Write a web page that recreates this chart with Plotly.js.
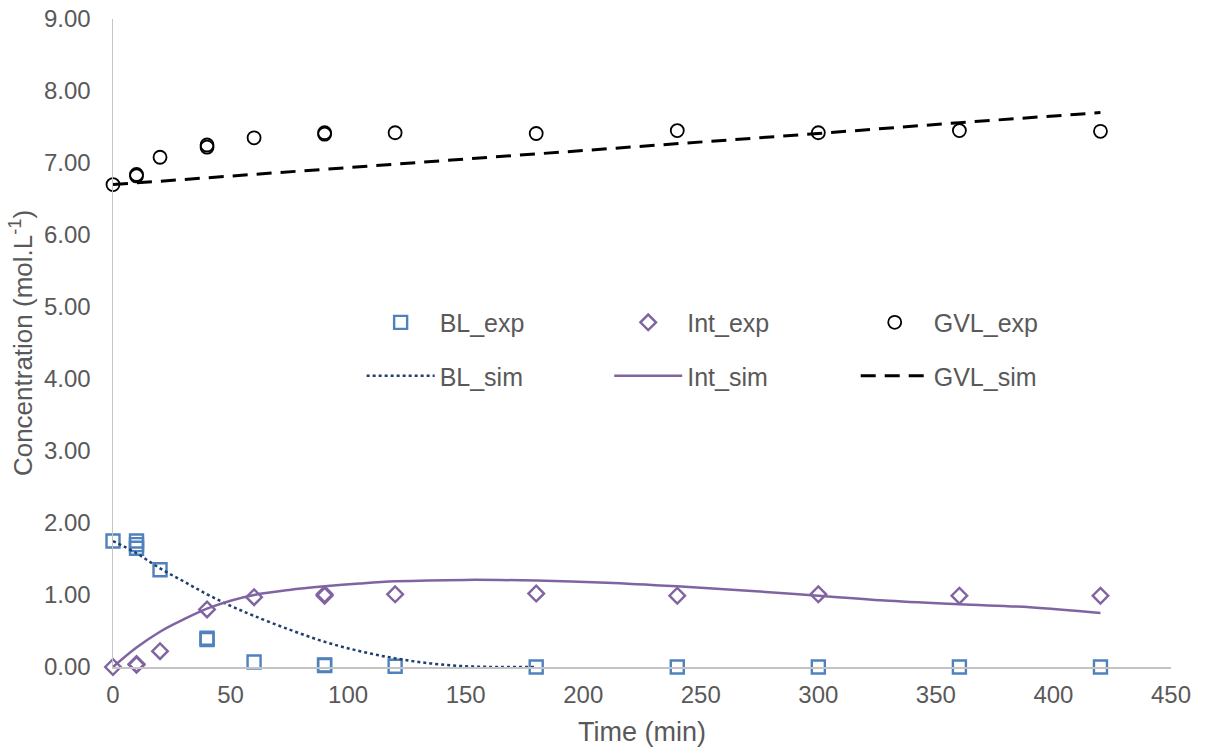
<!DOCTYPE html>
<html>
<head>
<meta charset="utf-8">
<script src="https://cdn.plot.ly/plotly-3.0.1.min.js"></script>
<style>html,body{margin:0;padding:0;background:#fff}#chart{width:1210px;height:753px}</style>
</head>
<body>
<div id="chart"></div>
<script>
// Experimental data
const blExpT = [0, 10, 10, 10, 20, 40, 40, 60, 90, 90, 120, 180, 240, 300, 360, 420];
const blExpC = [1.75, 1.75, 1.70, 1.65, 1.35, 0.38, 0.40, 0.07, 0.02, 0.03, 0.01, 0.00, 0.00, 0.00, 0.00, 0.00];

const intExpT = [0, 10, 10, 20, 40, 60, 90, 90, 120, 180, 240, 300, 360, 420];
const intExpC = [0.00, 0.03, 0.04, 0.22, 0.80, 0.97, 0.99, 1.01, 1.01, 1.02, 0.99, 1.01, 0.99, 0.99];

const gvlExpT = [0, 10, 10, 20, 40, 40, 60, 90, 90, 120, 180, 240, 300, 360, 420];
const gvlExpC = [6.70, 6.82, 6.84, 7.08, 7.22, 7.25, 7.35, 7.40, 7.42, 7.42, 7.41, 7.45, 7.42, 7.45, 7.44];

// Simulated data
const blSimT = [0, 10, 20, 30, 40, 50, 60, 75, 90, 105, 120, 135, 150, 165, 180];
const blSimC = [1.75, 1.58, 1.37, 1.19, 1.01, 0.85, 0.71, 0.52, 0.35, 0.22, 0.12, 0.05, 0.01, 0.00, 0.00];

const intSimT = [0, 10, 20, 30, 40, 50, 60, 75, 90, 105, 120, 150, 180, 210, 240, 270, 300, 330, 360, 390, 420];
const intSimC = [0.00, 0.27, 0.49, 0.66, 0.81, 0.92, 1.00, 1.07, 1.12, 1.16, 1.19, 1.21, 1.20, 1.17, 1.12, 1.06, 0.99, 0.92, 0.87, 0.83, 0.75];

const gvlSimT = [0, 60, 120, 180, 240, 300, 360, 420];
const gvlSimC = [6.70, 6.84, 6.99, 7.13, 7.27, 7.41, 7.56, 7.70];

const xTicks = [0, 50, 100, 150, 200, 250, 300, 350, 400, 450];
const yTicks = [0, 1, 2, 3, 4, 5, 6, 7, 8, 9];

const blue = '#4f81bd', purple = '#8064a2', navy = '#1f3f6e', black = '#000000';
const fam = 'Liberation Sans, Arial, sans-serif';
const lf = {family: fam, size: 25, color: '#595959'};

const traces = [
  {x: blExpT, y: blExpC, name: 'BL_exp', mode: 'markers', type: 'scatter', legend: 'legend', legendgroup: 'a', cliponaxis: false,
   marker: {symbol: 'square-open', size: 13, color: blue, line: {width: 2.4, color: blue}}},
  {x: blSimT, y: blSimC, name: 'BL_sim', mode: 'lines', type: 'scatter', legend: 'legend', legendgroup: 'b',
   line: {color: navy, width: 2.5, dash: 'dot', shape: 'spline'}},
  {x: intExpT, y: intExpC, name: 'Int_exp', mode: 'markers', type: 'scatter', legend: 'legend2', legendgroup: 'c', cliponaxis: false,
   marker: {symbol: 'diamond-open', size: 12, color: purple, line: {width: 2.4, color: purple}}},
  {x: intSimT, y: intSimC, name: 'Int_sim', mode: 'lines', type: 'scatter', legend: 'legend2', legendgroup: 'd',
   line: {color: purple, width: 2.5, shape: 'spline'}},
  {x: gvlExpT, y: gvlExpC, name: 'GVL_exp', mode: 'markers', type: 'scatter', legend: 'legend3', legendgroup: 'e', cliponaxis: false,
   marker: {symbol: 'circle-open', size: 13, color: black, line: {width: 1.8, color: black}}},
  {x: gvlSimT, y: gvlSimC, name: 'GVL_sim', mode: 'lines', type: 'scatter', legend: 'legend3', legendgroup: 'f',
   line: {color: black, width: 3, dash: '15px,9px'}}
];

const legBase = {orientation: 'v', yanchor: 'top', xanchor: 'left', y: 0.567, font: lf,
  bgcolor: 'rgba(0,0,0,0)', tracegroupgap: 18, itemwidth: 68, traceorder: 'grouped'};

const layout = {
  width: 1210, height: 753,
  margin: {l: 113, r: 39, t: 19, b: 86},
  paper_bgcolor: '#fff', plot_bgcolor: '#fff',
  font: {family: fam, color: '#595959'},
  showlegend: true,
  legend: Object.assign({}, legBase, {x: 0.235}),
  legend2: Object.assign({}, legBase, {x: 0.469}),
  legend3: Object.assign({}, legBase, {x: 0.702}),
  xaxis: {
    range: [0, 450], tickvals: xTicks, ticktext: xTicks.map(String),
    showgrid: false, zeroline: false, showline: true, linecolor: '#c4c4c4', linewidth: 1.5,
    ticks: '', ticklabelstandoff: 6, tickfont: {family: fam, size: 24, color: '#595959'},
    title: {text: 'Time (min)', font: {family: fam, size: 27, color: '#595959'}, standoff: 15}
  },
  yaxis: {
    range: [0, 9], tickvals: yTicks, tickformat: '.2f',
    showgrid: false, zeroline: false, showline: true, linecolor: '#c4c4c4', linewidth: 1.5,
    ticks: '', ticklabelstandoff: 16, tickfont: {family: fam, size: 24, color: '#595959'},
    title: {text: 'Concentration (mol.L<sup>-1</sup>)', font: {family: fam, size: 26, color: '#595959'}, standoff: 4}
  }
};

Plotly.newPlot('chart', traces, layout, {displayModeBar: false, staticPlot: true});
</script>
</body>
</html>
